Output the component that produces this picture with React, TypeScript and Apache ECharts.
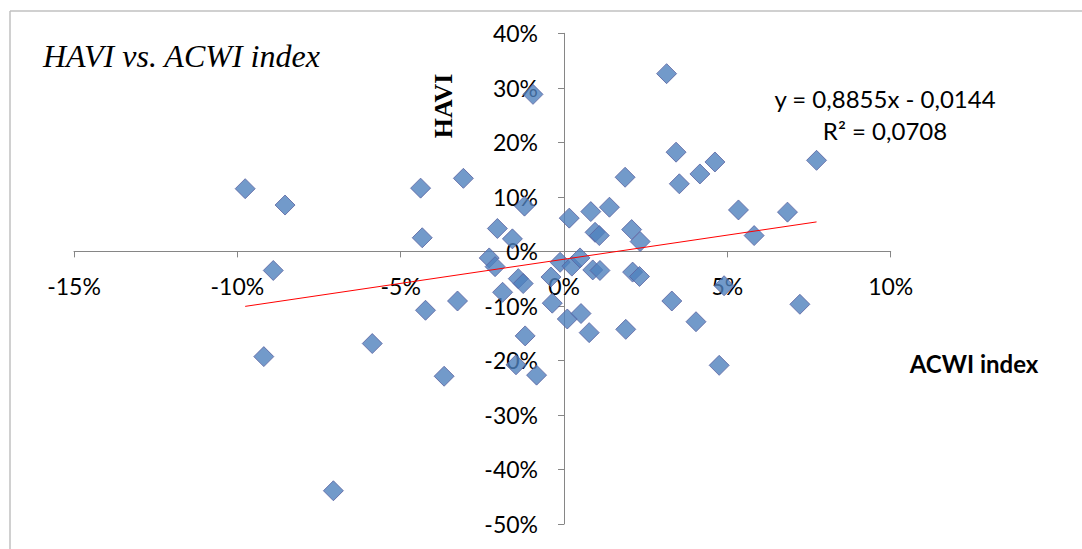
import React, { useEffect, useRef } from "react";
import * as echarts from "echarts";

const acwi = [
  -9.76, -8.54, -8.9, -9.19, -7.06, -5.87, -4.39, -4.34, -4.24, -3.67,
  -3.26, -3.08, -2.04, -1.21, -1.58, -2.29, -2.11, -1.88, -1.4, -1.25,
  -1.19, -1.47, -0.84, -0.95, -0.4, -0.36, -0.12, 0.1, 0.24, 0.49,
  0.52, 0.77, 0.16, 0.82, 0.95, 1.08, 0.88, 1.1, 1.39, 1.87,
  1.89, 2.07, 2.33, 2.1, 2.31, 3.14, 3.43, 3.53, 3.3, 4.04,
  4.16, 4.62, 4.75, 4.9, 5.34, 5.82, 6.84, 7.22, 7.73,
];
const havi = [
  11.5, 8.5, -3.5, -19.3, -43.9, -16.9, 11.6, 2.5, -10.8, -22.9,
  -9.1, 13.4, 4.2, 8.3, 2.3, -1.2, -2.8, -7.5, -5.0, -5.9,
  -15.5, -20.8, -22.7, 28.8, -4.7, -9.5, -2.0, -12.4, -2.7, -1.2,
  -11.4, -14.9, 6.1, 7.3, 3.5, 2.9, -3.4, -3.5, 8.1, 13.6,
  -14.3, 4.0, 1.8, -3.8, -4.6, 32.6, 18.2, 12.4, -9.1, -12.9,
  14.2, 16.4, -20.9, -6.3, 7.6, 2.9, 7.2, -9.7, 16.7,
];

const xMin = -15, xMax = 10, xStep = 5;
const yMin = -50, yMax = 40, yStep = 10;

const trendSlope = 0.8855;
const trendIntercept = -0.0144;
const rSquared = "0,0708";

const titleText = "HAVI vs. ACWI index";
const yTitle = "HAVI";
const xTitle = "ACWI index";
const eqText = "y = 0,8855x - 0,0144";

export default function App() {
  const ref = useRef<HTMLDivElement>(null);
  useEffect(() => {
    if (!ref.current) return;
    const chart = echarts.init(ref.current, undefined, { renderer: "svg" });
    const pts = acwi.map((x, i) => [x, havi[i]]);
    const lo = Math.min(...acwi);
    const hi = Math.max(...acwi);
    const trend = [lo, hi].map((x) => [x, trendSlope * x + trendIntercept * 100]);
    const labelFont = "Lato, 'Open Sans', sans-serif";

    const W = 1082, H = 549;
    const gL = 74, gR = 191.3, gT = 33.3, gB = 25;
    const gW = W - gL - gR, gH = H - gT - gB;
    const zeroX = gL + ((0 - xMin) / (xMax - xMin)) * gW;
    const zeroY = gT + ((yMax - 0) / (yMax - yMin)) * gH;

    chart.setOption({
      animation: false,
      backgroundColor: "#ffffff",
      grid: { left: gL, right: gR, top: gT, bottom: gB, containLabel: false },
      xAxis: {
        type: "value",
        min: xMin,
        max: xMax,
        interval: xStep,
        position: "bottom",
        offset: -(gT + gH - zeroY),
        axisLine: { onZero: false, lineStyle: { color: "#868686", width: 1 } },
        axisTick: { show: true, inside: false, length: 6, lineStyle: { color: "#868686" } },
        axisLabel: {
          formatter: (v: number) => v + "%",
          fontSize: 23,
          fontFamily: labelFont,
          color: "#000",
          margin: 23,
        },
        splitLine: { show: false },
      },
      yAxis: {
        type: "value",
        min: yMin,
        max: yMax,
        interval: yStep,
        position: "left",
        offset: -(zeroX - gL),
        axisLine: { onZero: false, lineStyle: { color: "#868686", width: 1 } },
        axisTick: { show: true, inside: false, length: 6, lineStyle: { color: "#868686" } },
        axisLabel: {
          formatter: (v: number) => v + "%",
          fontSize: 23,
          fontFamily: labelFont,
          color: "#000",
          margin: 26,
        },
        splitLine: { show: false },
      },
      series: [
        {
          type: "scatter",
          data: pts,
          symbol: "diamond",
          symbolSize: 20,
          itemStyle: { color: "#4f81bd", borderColor: "#5a62a0", borderWidth: 1 },
          z: 3,
        },
        {
          type: "line",
          data: trend,
          showSymbol: false,
          symbol: "none",
          lineStyle: { color: "#ff0000", width: 1 },
          z: 4,
        },
      ],
      graphic: [
        {
          type: "line",
          shape: { x1: 10, y1: 11, x2: W, y2: 11 },
          style: { stroke: "#c0c0c0", lineWidth: 1.5 },
          silent: true,
        },
        {
          type: "line",
          shape: { x1: 10, y1: 11, x2: 10, y2: H },
          style: { stroke: "#c0c0c0", lineWidth: 1.5 },
          silent: true,
        },
        {
          type: "text",
          left: 43,
          top: 40,
          style: {
            text: titleText,
            font: "italic 32px 'Liberation Serif', serif",
            fill: "#000",
          },
        },
        {
          type: "text",
          x: 443,
          y: 106,
          rotation: Math.PI / 2,
          style: {
            text: yTitle,
            font: "bold 26px 'Liberation Serif', serif",
            fill: "#000",
            textAlign: "center",
            textVerticalAlign: "middle",
          },
        },
        {
          type: "text",
          x: 974,
          y: 363,
          style: {
            text: xTitle,
            font: "bold 24px Lato, sans-serif",
            fill: "#000",
            textAlign: "center",
            textVerticalAlign: "middle",
          },
        },
        {
          type: "text",
          x: 885,
          y: 98,
          style: {
            text: eqText,
            font: "24px Lato, sans-serif",
            fill: "#000",
            textAlign: "center",
            textVerticalAlign: "middle",
          },
        },
        {
          type: "text",
          x: 885,
          y: 130,
          style: {
            text: "R² = " + rSquared,
            font: "24px Lato, sans-serif",
            fill: "#000",
            textAlign: "center",
            textVerticalAlign: "middle",
          },
        },
      ],
    });
    return () => chart.dispose();
  }, []);
  return (
    <div
      ref={ref}
      style={{ position: "absolute", left: 0, top: 0, width: 1082, height: 549 }}
    />
  );
}
